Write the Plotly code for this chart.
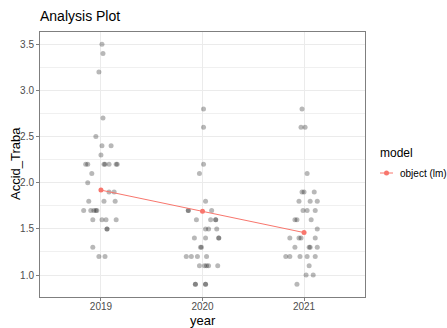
import plotly.graph_objects as go

# ---- data ----
years = [2019, 2020, 2021]

vals_2019 = [3.5, 3.4, 3.2, 2.7, 2.5, 2.4, 2.4, 2.3,
             2.2, 2.2, 2.2, 2.2, 2.2, 2.2, 2.2, 2.1, 2.0, 1.9, 1.9,
             1.8, 1.8, 1.8, 1.7, 1.7, 1.7, 1.7, 1.7,
             1.6, 1.6, 1.6, 1.6, 1.5, 1.5, 1.3, 1.2, 1.2]
jit_2019 = [0.01, 0.02, -0.02, 0.02, -0.05, 0.01, 0.10, 0.00,
            -0.15, -0.13, 0.03, 0.04, 0.08, 0.15, 0.16, -0.09, -0.13, 0.08, 0.13,
            -0.12, 0.03, 0.14, -0.17, -0.10, -0.07, -0.05, -0.04,
            -0.08, 0.01, 0.05, 0.15, 0.06, 0.06, -0.08, -0.02, 0.04]

vals_2020 = [2.8, 2.6, 2.2, 2.1, 1.8, 1.7, 1.7, 1.7,
             1.6, 1.6, 1.6, 1.6, 1.5, 1.5, 1.5,
             1.4, 1.4, 1.4, 1.4, 1.3, 1.3,
             1.2, 1.2, 1.2, 1.2, 1.1, 1.1, 1.1, 1.1, 1.1,
             0.9, 0.9, 0.9, 0.9]
jit_2020 = [0.01, 0.01, 0.01, -0.03, 0.03, -0.14, -0.14, 0.09,
            -0.06, 0.08, 0.13, 0.13, 0.03, 0.06, 0.14,
            -0.08, 0.03, 0.16, 0.16, -0.01, -0.02,
            -0.16, -0.11, -0.05, 0.04, -0.03, 0.02, 0.04, 0.06, 0.15,
            -0.07, -0.07, 0.03, 0.03]

vals_2021 = [2.8, 2.6, 2.6, 2.1, 1.9, 1.9, 1.9, 1.8, 1.8, 1.8,
             1.7, 1.7, 1.7, 1.6, 1.6, 1.6, 1.5,
             1.4, 1.4, 1.4, 1.4, 1.3, 1.3, 1.3, 1.3,
             1.2, 1.2, 1.2, 1.2, 1.2, 1.1, 1.0, 1.0, 0.9]
jit_2021 = [-0.02, -0.03, 0.01, 0.03, -0.02, 0.00, 0.10, -0.05, 0.06, 0.13,
            -0.01, 0.03, 0.11, -0.09, -0.07, 0.07, 0.13,
            -0.14, -0.05, -0.03, 0.11, -0.09, 0.05, 0.06, 0.13,
            -0.18, -0.14, -0.04, 0.03, 0.11, 0.05, 0.02, 0.09, -0.07]

fit_vals = [1.92, 1.69, 1.46]

y_ticks = [1.0, 1.5, 2.0, 2.5, 3.0, 3.5]
x_ticks = years
x_tick_labels = ["2019", "2020", "2021"]

# ---- build ----
px_all, py_all = [], []
for yr, vals, jit in [(2019, vals_2019, jit_2019), (2020, vals_2020, jit_2020), (2021, vals_2021, jit_2021)]:
    px_all += [yr + j for j in jit]
    py_all += vals

RED = "#F8766D"
fig = go.Figure()
fig.add_trace(go.Scatter(x=px_all, y=py_all, mode="markers",
                         marker=dict(size=5, color="rgba(0,0,0,0.28)", line=dict(width=0)),
                         showlegend=False, hoverinfo="skip"))
fig.add_trace(go.Scatter(x=years, y=fit_vals, mode="lines+markers",
                         line=dict(color=RED, width=1),
                         marker=dict(size=5, color=RED),
                         name="object (lm)", showlegend=False))

L, R, T, B = 40, 365, 32, 297
W, H = 447, 328

def pxx(p):
    return (p - L) / (R - L)

def pyy(p):
    return (B - p) / (B - T)

fig.update_layout(
    width=W, height=H,
    margin=dict(l=L, r=W - R, t=T, b=H - B, autoexpand=False),
    plot_bgcolor="white", paper_bgcolor="white",
    font=dict(family="Liberation Sans, Arial, sans-serif", color="#4d4d4d", size=10),
    title=dict(text="Analysis Plot", x=40 / W, xanchor="left", y=1 - 16 / H, yanchor="middle",
               font=dict(size=14, color="#000000")),
    xaxis=dict(range=[2018.4, 2021.6], tickvals=x_ticks, ticktext=x_tick_labels,
               showgrid=True, gridcolor="#ebebeb", gridwidth=1, zeroline=False,
               showline=True, linecolor="#7f7f7f", linewidth=1, mirror=True,
               ticks="outside", ticklen=3, tickcolor="#7f7f7f", ticklabelstandoff=-3,
               tickfont=dict(size=10, color="#4d4d4d")),
    yaxis=dict(range=[0.762, 3.633], tickvals=y_ticks, tickformat=".1f",
               showgrid=True, gridcolor="#ebebeb", gridwidth=1, zeroline=False,
               showline=True, linecolor="#7f7f7f", linewidth=1, mirror=True,
               ticks="outside", ticklen=3, tickcolor="#7f7f7f",
               tickfont=dict(size=10, color="#4d4d4d"),
               minor=dict(dtick=0.25, tick0=0.75, showgrid=True, gridcolor="#f0f0f0", gridwidth=1)),
    showlegend=False,
)

# axis titles
fig.add_annotation(text="year", xref="paper", yref="paper", x=pxx(202.5), y=pyy(320),
                   xanchor="center", yanchor="middle", showarrow=False,
                   font=dict(size=13, color="#000000"))
fig.add_annotation(text="Accid_Traba", xref="paper", yref="paper", x=pxx(15), y=pyy(164),
                   xanchor="center", yanchor="middle", showarrow=False, textangle=-90,
                   font=dict(size=13, color="#000000"))

# legend (drawn manually)
fig.add_annotation(text="model", xref="paper", yref="paper", x=pxx(378), y=pyy(153),
                   xanchor="left", yanchor="middle", showarrow=False,
                   font=dict(size=12, color="#000000"))
fig.add_shape(type="line", xref="paper", yref="paper", x0=pxx(380), x1=pxx(393),
              y0=pyy(173), y1=pyy(173), line=dict(color=RED, width=1))
fig.add_shape(type="circle", xref="paper", yref="paper", x0=pxx(384), x1=pxx(389),
              y0=pyy(175.5), y1=pyy(170.5), line=dict(width=0), fillcolor=RED)
fig.add_annotation(text="object (lm)", xref="paper", yref="paper", x=pxx(398), y=pyy(173),
                   xanchor="left", yanchor="middle", showarrow=False,
                   font=dict(size=10, color="#000000"))

fig.write_html("out.html", config={"displayModeBar": False},
               post_script="document.body.style.margin='0px';document.body.style.padding='0px';")
